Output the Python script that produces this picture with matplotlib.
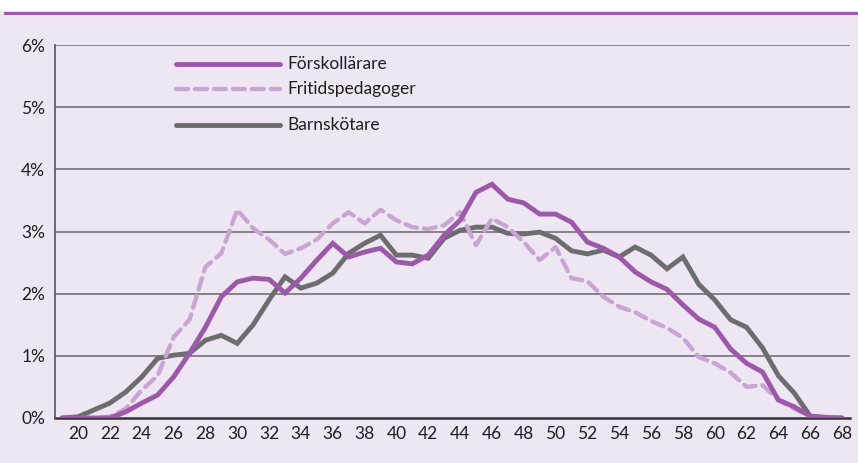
import matplotlib
matplotlib.use("Agg")
import matplotlib.pyplot as plt
from matplotlib.lines import Line2D

ages = list(range(19, 69))

forskollarare = [0, 0, 0, 0, 0.10, 0.24, 0.37, 0.66, 1.04, 1.46,
                 1.95, 2.19, 2.25, 2.23, 2.01, 2.25, 2.54, 2.81, 2.59, 2.67,
                 2.73, 2.51, 2.48, 2.62, 2.94, 3.18, 3.63, 3.76, 3.52, 3.46,
                 3.28, 3.28, 3.15, 2.83, 2.73, 2.59, 2.35, 2.19, 2.07, 1.82,
                 1.59, 1.46, 1.11, 0.88, 0.74, 0.29, 0.18, 0.03, 0.01, 0]

fritidspedagoger = [0, 0, 0, 0.02, 0.15, 0.45, 0.68, 1.30, 1.58, 2.43,
                    2.65, 3.35, 3.05, 2.87, 2.64, 2.73, 2.87, 3.13, 3.31, 3.13,
                    3.35, 3.18, 3.07, 3.04, 3.10, 3.31, 2.78, 3.21, 3.07, 2.83,
                    2.54, 2.75, 2.25, 2.20, 1.95, 1.79, 1.70, 1.56, 1.45, 1.29,
                    0.98, 0.88, 0.73, 0.50, 0.53, 0.29, 0.15, 0.02, 0, 0]

barnskotare = [0, 0.02, 0.13, 0.24, 0.42, 0.66, 0.96, 1.01, 1.04, 1.25,
               1.33, 1.20, 1.50, 1.90, 2.27, 2.09, 2.17, 2.33, 2.65, 2.81,
               2.94, 2.62, 2.62, 2.57, 2.89, 3.02, 3.07, 3.07, 2.97, 2.96,
               2.99, 2.89, 2.69, 2.64, 2.70, 2.59, 2.75, 2.62, 2.40, 2.59,
               2.15, 1.90, 1.58, 1.46, 1.13, 0.68, 0.40, 0.03, 0, 0]

labels = ["Förskollärare", "Fritidspedagoger", "Barnskötare"]
xticks = list(range(20, 69, 2))
yticks = [0, 1, 2, 3, 4, 5, 6]

BG = "#EEE6F2"
C_F = "#9C59A9"
C_FR = "#C9A5D3"
C_B = "#6D6D70"
FONT = ["Lato", "DejaVu Sans"]
FS = 12.5

fig = plt.figure(figsize=(8.58, 4.63), dpi=100)
fig.patch.set_facecolor(BG)
# white strip at top + purple rule
fig.add_artist(plt.Rectangle((0, 1 - 11 / 463), 1, 11 / 463, transform=fig.transFigure,
                             facecolor="white", edgecolor="none"))
fig.add_artist(Line2D([5 / 858, 1], [1 - 12.5 / 463, 1 - 12.5 / 463], transform=fig.transFigure,
                      color="#A05AAD", lw=2.2))

ax = fig.add_axes([55 / 858, 1 - 418 / 463, (850 - 55) / 858, (418 - 45) / 463])
ax.set_facecolor(BG)

for y in yticks[1:]:
    ax.axhline(y, color="#737075", lw=1.2, zorder=1)

ax.plot(ages, barnskotare, color=C_B, lw=3.5, solid_capstyle="round", solid_joinstyle="miter", zorder=3)
ax.plot(ages, fritidspedagoger, color=C_FR, lw=3.1, dashes=(2.8, 1.6), dash_capstyle="round",
        zorder=4)
ax.plot(ages, forskollarare, color=C_F, lw=3.5, solid_capstyle="round", solid_joinstyle="miter", zorder=5)

ax.set_xlim(18.55, 68.5)
ax.set_ylim(0, 6)
ax.set_xticks(xticks)
ax.set_xticklabels([str(t) for t in xticks], fontfamily=FONT, fontsize=FS, color="#1e1e1e")
ax.set_yticks(yticks)
ax.set_yticklabels([f"{t}%" for t in yticks], fontfamily=FONT, fontsize=FS, color="#1e1e1e")
ax.tick_params(axis="both", length=0)
ax.tick_params(axis="x", pad=6)
ax.tick_params(axis="y", pad=7)

for s in ["top", "right"]:
    ax.spines[s].set_visible(False)
ax.spines["left"].set_color("#555555")
ax.spines["left"].set_linewidth(1.2)
ax.spines["bottom"].set_color("#333333")
ax.spines["bottom"].set_linewidth(1.8)
ax.spines["bottom"].set_zorder(2)

# legend (manual, uneven spacing like the reference)
leg_rows = [(0.949, C_F, None), (0.882, C_FR, (2.8, 1.6)), (0.786, C_B, None)]
for (yy, col, dsh), lab in zip(leg_rows, labels):
    kw = dict(color=col, lw=3.5, transform=ax.transAxes, solid_capstyle="round")
    if dsh:
        kw.update(dashes=dsh, dash_capstyle="round", lw=3.1)
    ax.add_line(Line2D([0.152, 0.283], [yy, yy], **kw))
    ax.text(0.292, yy, lab, transform=ax.transAxes, va="center", ha="left",
            fontfamily=FONT, fontsize=FS, color="#1e1e1e")

fig.savefig("out.png", dpi=100, facecolor=BG)
